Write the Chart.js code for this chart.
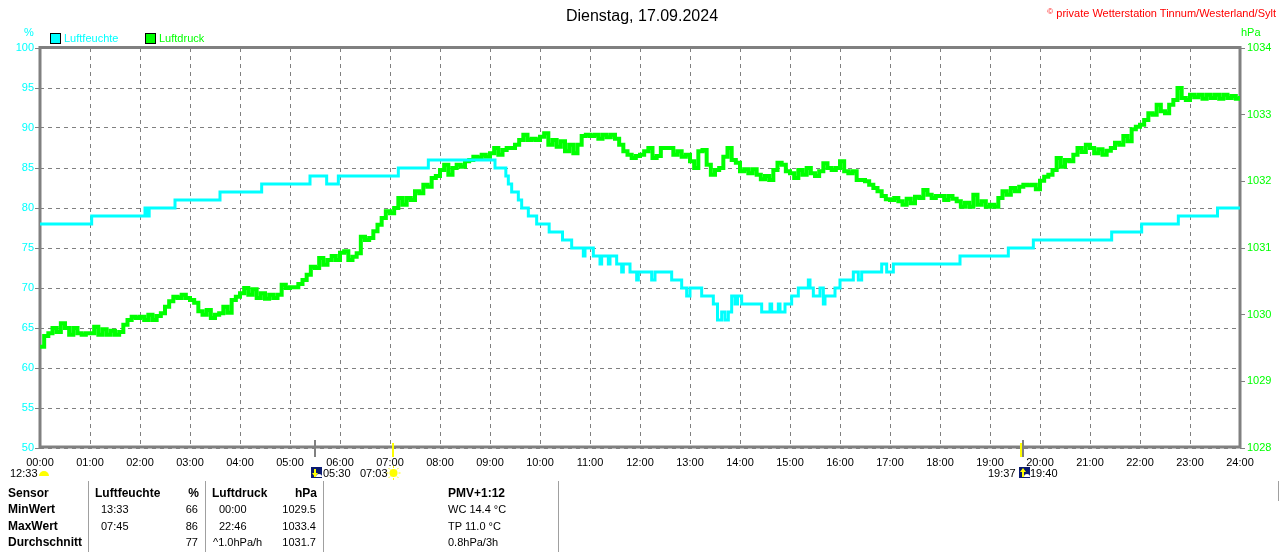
<!DOCTYPE html>
<html>
<head>
<meta charset="utf-8">
<script src="https://cdn.jsdelivr.net/npm/chart.js@4/dist/chart.umd.min.js"></script>
<style>
html, body { margin: 0; padding: 0; background: #fff; }
#wrap { position: relative; width: 1280px; height: 552px; overflow: hidden; font-family: "Liberation Sans", Arial, sans-serif; font-size: 11px; color: #000; }
#chart { position: absolute; left: 0; top: 0; }
.t { position: absolute; white-space: nowrap; line-height: 13px; }
.b { font-weight: bold; font-size: 12px; }
.r { text-align: right; }
.vl { position: absolute; width: 1px; background: #a0a0a0; }
.box { position: absolute; width: 9px; height: 9px; border: 1px solid #000; }
</style>
</head>
<body>
<div id="wrap">
	<canvas id="chart" width="1280" height="552"></canvas>

	<div class="t" style="left:0;width:1284px;top:7px;font-size:16px;line-height:18px;text-align:center;">Dienstag, 17.09.2024</div>
	<div class="t" style="right:4px;top:5px;color:#ff0000;"><span style="font-size:8px;vertical-align:3px;">©</span> private Wetterstation Tinnum/Westerland/Sylt</div>

	<div class="t" style="left:24px;top:26px;color:#00ffff;">%</div>
	<div class="t" style="left:1241px;top:26px;color:#00ff00;">hPa</div>
	<div class="box" style="left:50px;top:33px;background:#00ffff;"></div>
	<div class="t" style="left:64px;top:32px;color:#00ffff;">Luftfeuchte</div>
	<div class="box" style="left:145px;top:33px;background:#00ff00;"></div>
	<div class="t" style="left:159px;top:32px;color:#00ff00;">Luftdruck</div>

	<div class="t" style="left:10px;top:467px;">12:33</div>
	<div class="t" style="left:323px;top:467px;">05:30</div>
	<div class="t" style="left:360px;top:467px;">07:03</div>
	<div class="t" style="left:988px;top:467px;">19:37</div>
	<div class="t" style="left:1030px;top:467px;">19:40</div>

	<div class="vl" style="left:88px;top:481px;height:71px;"></div>
	<div class="vl" style="left:205px;top:481px;height:71px;"></div>
	<div class="vl" style="left:323px;top:481px;height:71px;"></div>
	<div class="vl" style="left:558px;top:481px;height:71px;"></div>
	<div class="vl" style="left:1278px;top:481px;height:20px;"></div>

	<div class="t b" style="left:8px;top:487px;">Sensor</div>
	<div class="t b" style="left:8px;top:503px;">MinWert</div>
	<div class="t b" style="left:8px;top:520px;">MaxWert</div>
	<div class="t b" style="left:8px;top:536px;">Durchschnitt</div>

	<div class="t b" style="left:95px;top:487px;">Luftfeuchte</div>
	<div class="t b r" style="left:150px;width:49px;top:487px;">%</div>
	<div class="t" style="left:101px;top:503px;">13:33</div>
	<div class="t r" style="left:150px;width:48px;top:503px;">66</div>
	<div class="t" style="left:101px;top:520px;">07:45</div>
	<div class="t r" style="left:150px;width:48px;top:520px;">86</div>
	<div class="t r" style="left:150px;width:48px;top:536px;">77</div>

	<div class="t b" style="left:212px;top:487px;">Luftdruck</div>
	<div class="t b r" style="left:268px;width:49px;top:487px;">hPa</div>
	<div class="t" style="left:219px;top:503px;">00:00</div>
	<div class="t r" style="left:268px;width:48px;top:503px;">1029.5</div>
	<div class="t" style="left:219px;top:520px;">22:46</div>
	<div class="t r" style="left:268px;width:48px;top:520px;">1033.4</div>
	<div class="t" style="left:213px;top:536px;">^1.0hPa/h</div>
	<div class="t r" style="left:268px;width:48px;top:536px;">1031.7</div>

	<div class="t b" style="left:448px;top:487px;">PMV+1:12</div>
	<div class="t" style="left:448px;top:503px;">WC 14.4 °C</div>
	<div class="t" style="left:448px;top:520px;">TP 11.0 °C</div>
	<div class="t" style="left:448px;top:536px;">0.8hPa/3h</div>
</div>

<script>
// tick labels of the time axis
const hourLabels = ['00:00', '01:00', '02:00', '03:00', '04:00', '05:00', '06:00', '07:00', '08:00',
	'09:00', '10:00', '11:00', '12:00', '13:00', '14:00', '15:00', '16:00', '17:00', '18:00',
	'19:00', '20:00', '21:00', '22:00', '23:00', '24:00'];

// Luftfeuchte (%) - minute of the day where the value changes, and the new value
const humMinutes = [0, 62, 126, 128, 131, 162, 216, 266, 324, 344, 358, 430, 466,
	546, 559, 562, 566, 574, 578, 586, 596, 611, 627, 638, 652, 654, 664, 672, 674, 682, 684,
	692, 698, 700, 708, 716, 718, 734, 738, 758, 770, 776, 780, 794, 808, 813, 818, 822, 826,
	830, 834, 837, 842, 866, 876, 878, 886, 888, 894, 902, 910, 922, 924, 928, 936, 940, 942,
	954, 960, 976, 982, 986, 1010, 1016, 1024, 1104, 1162, 1192, 1286, 1322, 1366, 1413, 1440];
const humValues = [78, 79, 80, 79, 80, 81, 82, 83, 84, 83, 84, 85, 86,
	85, 84, 83, 82, 81, 80, 79, 78, 77, 76, 75, 74, 75, 74, 73, 74, 73, 74,
	73, 72, 73, 72, 71, 72, 71, 72, 71, 70, 69, 70, 69, 68, 66, 67, 66, 67,
	69, 68, 69, 68, 67, 68, 67, 68, 67, 68, 69, 70, 71, 70, 69, 70, 68, 69,
	70, 71, 72, 71, 72, 73, 72, 73, 74, 75, 76, 77, 78, 79, 80, 80];

// Luftdruck (hPa) - one reading every 5 minutes, 00:00 .. 24:00 (12 per row = 1 hour)
const presValues = [
	1029.52, 1029.68, 1029.72, 1029.80, 1029.74, 1029.87, 1029.80, 1029.70, 1029.80, 1029.72, 1029.70, 1029.72,
	1029.72, 1029.82, 1029.70, 1029.78, 1029.70, 1029.76, 1029.70, 1029.74, 1029.85, 1029.92, 1029.97, 1029.95,
	1029.97, 1029.92, 1030.00, 1029.92, 1029.98, 1030.02, 1030.12, 1030.20, 1030.27, 1030.25, 1030.30, 1030.25,
	1030.22, 1030.18, 1030.05, 1030.00, 1030.07, 1029.95, 1030.00, 1030.02, 1030.12, 1030.03, 1030.22, 1030.27,
	1030.32, 1030.40, 1030.30, 1030.38, 1030.25, 1030.32, 1030.24, 1030.30, 1030.25, 1030.30, 1030.45, 1030.40,
	1030.41, 1030.41, 1030.46, 1030.52, 1030.60, 1030.72, 1030.70, 1030.85, 1030.75, 1030.82, 1030.88, 1030.82,
	1030.93, 1030.95, 1030.82, 1030.87, 1030.92, 1031.17, 1031.12, 1031.15, 1031.25, 1031.35, 1031.45, 1031.55,
	1031.52, 1031.60, 1031.75, 1031.65, 1031.75, 1031.72, 1031.85, 1031.82, 1031.95, 1031.92, 1032.05, 1032.08,
	1032.17, 1032.25, 1032.10, 1032.20, 1032.25, 1032.22, 1032.30, 1032.32, 1032.37, 1032.35, 1032.40, 1032.37,
	1032.42, 1032.50, 1032.40, 1032.47, 1032.50, 1032.50, 1032.55, 1032.62, 1032.70, 1032.62, 1032.64, 1032.62,
	1032.67, 1032.72, 1032.55, 1032.62, 1032.52, 1032.60, 1032.45, 1032.55, 1032.42, 1032.55, 1032.68, 1032.70,
	1032.68, 1032.70, 1032.64, 1032.70, 1032.66, 1032.70, 1032.64, 1032.55, 1032.45, 1032.40, 1032.35, 1032.38,
	1032.40, 1032.45, 1032.50, 1032.35, 1032.38, 1032.50, 1032.50, 1032.50, 1032.40, 1032.45, 1032.37, 1032.40,
	1032.30, 1032.20, 1032.45, 1032.47, 1032.25, 1032.10, 1032.17, 1032.20, 1032.37, 1032.50, 1032.32, 1032.28,
	1032.15, 1032.18, 1032.12, 1032.18, 1032.10, 1032.03, 1032.08, 1032.02, 1032.17, 1032.28, 1032.25, 1032.15,
	1032.12, 1032.05, 1032.17, 1032.10, 1032.20, 1032.12, 1032.08, 1032.15, 1032.27, 1032.20, 1032.17, 1032.20,
	1032.30, 1032.15, 1032.12, 1032.15, 1032.02, 1032.02, 1032.00, 1031.95, 1031.90, 1031.85, 1031.78, 1031.73,
	1031.72, 1031.75, 1031.70, 1031.65, 1031.74, 1031.67, 1031.77, 1031.75, 1031.87, 1031.80, 1031.75, 1031.78,
	1031.78, 1031.72, 1031.78, 1031.74, 1031.70, 1031.62, 1031.68, 1031.62, 1031.80, 1031.65, 1031.70, 1031.62,
	1031.65, 1031.62, 1031.75, 1031.85, 1031.80, 1031.90, 1031.85, 1031.92, 1031.95, 1031.94, 1031.95, 1031.88,
	1032.01, 1032.07, 1032.10, 1032.17, 1032.35, 1032.22, 1032.32, 1032.30, 1032.40, 1032.50, 1032.44, 1032.55,
	1032.50, 1032.42, 1032.48, 1032.40, 1032.46, 1032.50, 1032.58, 1032.55, 1032.68, 1032.60, 1032.78, 1032.82,
	1032.85, 1032.92, 1033.02, 1033.00, 1033.15, 1033.05, 1033.02, 1033.15, 1033.22, 1033.40, 1033.25, 1033.22,
	1033.30, 1033.26, 1033.30, 1033.24, 1033.30, 1033.25, 1033.30, 1033.24, 1033.30, 1033.25, 1033.28, 1033.24,
	1033.28
];

// sun / twilight marks under the time axis (hours)
const twilightTimes = [5.5, 19 + 40 / 60];
const sunTimes = [7 + 3 / 60, 19 + 37 / 60];
const moonTime = 0;

const humData = humMinutes.map((m, i) => ({ x: m / 60, y: humValues[i] }));
const presData = presValues.map((v, i) => ({ x: i / 12, y: v }));

const GRID = '#808080';

// frame around the plot and the little symbols under the axis
const framePlugin = {
	id: 'frame',
	beforeDatasetsDraw(chart) {
		const { ctx, chartArea: a } = chart;
		ctx.save();
		ctx.strokeStyle = GRID;
		ctx.lineWidth = 3;
		ctx.strokeRect(a.left, a.top - 0.5, a.right - a.left, a.bottom - a.top - 0.5);
		ctx.restore();
	},
	afterDraw(chart) {
		const { ctx, chartArea: a } = chart;
		const xs = chart.scales.x;
		ctx.save();
		twilightTimes.forEach(t => {
			const x = Math.round(xs.getPixelForValue(t));
			ctx.fillStyle = GRID;
			ctx.fillRect(x - 1, a.bottom - 8, 2, 17);
		});
		sunTimes.forEach(t => {
			const x = Math.round(xs.getPixelForValue(t));
			ctx.fillStyle = '#ffff00';
			ctx.fillRect(x - 1, a.bottom - 5, 2, 14);
		});
		// sunrise / sunset twilight icons
		[[twilightTimes[0], 1], [twilightTimes[1], -1]].forEach(([t, dir]) => {
			const x = Math.round(xs.getPixelForValue(t)) - 4;
			const y = 467;
			ctx.fillStyle = '#0a1a70';
			ctx.fillRect(x, y, 11, 11);
			ctx.fillStyle = '#ffffff';
			ctx.beginPath();
			ctx.arc(x + 8, y + 10, 3, Math.PI, 0);
			ctx.fill();
			ctx.fillStyle = '#ffff00';
			ctx.fillRect(x + 3, y + 2, 2, 8);
			ctx.beginPath();
			if (dir > 0) {
				ctx.moveTo(x + 1, y + 6); ctx.lineTo(x + 7, y + 6); ctx.lineTo(x + 4, y + 10);
			} else {
				ctx.moveTo(x + 1, y + 5); ctx.lineTo(x + 7, y + 5); ctx.lineTo(x + 4, y + 1);
			}
			ctx.fill();
		});
		// sun icon at sunrise
		const sx = xs.getPixelForValue(sunTimes[0]) + 1;
		ctx.fillStyle = '#ffff00';
		ctx.strokeStyle = '#ffff00';
		ctx.beginPath();
		ctx.arc(sx, 473, 4, 0, Math.PI * 2);
		ctx.fill();
		ctx.lineWidth = 1;
		for (let k = 0; k < 8; k++) {
			const ang = k * Math.PI / 4;
			ctx.beginPath();
			ctx.moveTo(sx + Math.cos(ang) * 5, 473 + Math.sin(ang) * 5);
			ctx.lineTo(sx + Math.cos(ang) * 7, 473 + Math.sin(ang) * 7);
			ctx.stroke();
		}
		// moon icon next to 12:33
		const mx = xs.getPixelForValue(moonTime) + 4;
		ctx.beginPath();
		ctx.ellipse(mx, 476, 5, 5, 0, Math.PI, 0);
		ctx.fill();
		ctx.restore();
	}
};

const ctx = document.getElementById('chart').getContext('2d');
new Chart(ctx, {
	type: 'line',
	data: {
		datasets: [{
			label: 'Luftfeuchte',
			data: humData,
			yAxisID: 'y',
			borderColor: '#00ffff',
			borderWidth: 3,
			pointRadius: 0,
			stepped: true,
			fill: false
		}, {
			label: 'Luftdruck',
			data: presData,
			yAxisID: 'y1',
			borderColor: '#00ff00',
			borderWidth: 4,
			pointRadius: 0,
			stepped: true,
			fill: false
		}]
	},
	options: {
		responsive: false,
		animation: false,
		devicePixelRatio: 1,
		layout: { padding: { top: 48, left: 0, right: 0, bottom: 0 } },
		plugins: {
			legend: { display: false },
			tooltip: { enabled: false }
		},
		scales: {
			x: {
				type: 'linear',
				min: 0,
				max: 24,
				afterBuildTicks: s => { s.ticks = hourLabels.map((l, i) => ({ value: i })); },
				afterFit: s => { s.height = 104; },
				ticks: {
					autoSkip: false,
					maxRotation: 0,
					padding: 8,
					color: '#000',
					font: { family: 'Liberation Sans', size: 11 },
					callback: v => hourLabels[v]
				},
				grid: { color: GRID, lineWidth: 1, drawTicks: false },
				border: { display: false, dash: [4, 4] }
			},
			y: {
				position: 'left',
				min: 50,
				max: 100,
				afterBuildTicks: s => { s.ticks = []; for (let v = 50; v <= 100; v += 5) s.ticks.push({ value: v }); },
				afterFit: s => { s.width = 40; },
				ticks: {
					padding: 1,
					color: '#00ffff',
					font: { family: 'Liberation Sans', size: 11 },
					callback: v => String(v)
				},
				grid: { color: GRID, lineWidth: 1, tickLength: 5, tickColor: GRID },
				border: { display: false, dash: [4, 4] }
			},
			y1: {
				position: 'right',
				min: 1028,
				max: 1034,
				afterBuildTicks: s => { s.ticks = []; for (let v = 1028; v <= 1034; v++) s.ticks.push({ value: v }); },
				afterFit: s => { s.width = 40; },
				ticks: {
					padding: 2,
					color: '#00ff00',
					font: { family: 'Liberation Sans', size: 11 },
					callback: v => String(v)
				},
				grid: { drawOnChartArea: false, tickLength: 5, tickColor: GRID, lineWidth: 1 },
				border: { display: false }
			}
		}
	},
	plugins: [framePlugin]
});
</script>
</body>
</html>
